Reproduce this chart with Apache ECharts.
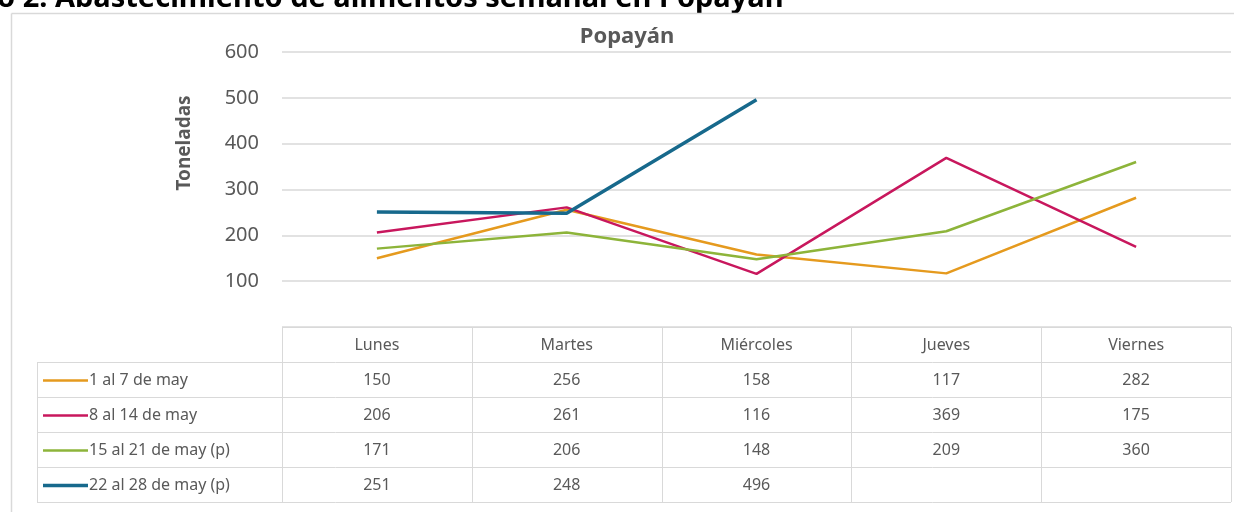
<!DOCTYPE html>
<html>
<head>
<meta charset="utf-8">
<script src="https://cdn.jsdelivr.net/npm/echarts@6/dist/echarts.min.js"></script>
<style>
  html, body { margin: 0; padding: 0; background: #fff; }
  #chart { width: 1234px; height: 512px; }
</style>
</head>
<body>
<div id="chart"></div>
<script>
var days = ['Lunes', 'Martes', 'Miércoles', 'Jueves', 'Viernes'];
var weeks = ['1 al 7 de may', '8 al 14 de may', '15 al 21 de may (p)', '22 al 28 de may (p)'];
var week1 = [150, 256, 158, 117, 282];
var week2 = [206, 261, 116, 369, 175];
var week3 = [171, 206, 148, 209, 360];
var week4 = [251, 248, 496, null, null];
var yTicks = [0, 100, 200, 300, 400, 500, 600];

var colors = ['#E59A1E', '#C8175D', '#8DB43A', '#17698C'];
var widths = [2.5, 2.5, 2.5, 3.5];
var allData = [week1, week2, week3, week4];

var chart = echarts.init(document.getElementById('chart'));

var txt = '#595959';
var border = '#d9d9d9';
var fam = 'Noto Sans';

// table layout (below the plot, like excel's data table)
var gridLeft = 282, gridRight = 1231, plotTop = 52, plotBottom = 327;
var colW = (gridRight - gridLeft) / days.length;
var headTop = 327, rowH = 35, legendLeft = 37;

function label(x, y, text, opts) {
    opts = opts || {};
    return {
        type: 'text', x: x, y: y, rotation: opts.rotation || 0,
        style: {
            text: text, fill: opts.fill || txt, fontSize: opts.size || 16,
            fontWeight: opts.weight || 'normal', fontFamily: fam,
            align: opts.align || 'center', verticalAlign: opts.valign || 'middle'
        }
    };
}

var graphics = [];

// cut-off figure caption at the very top
graphics.push(label(-3, -16, 'o 2. Abastecimiento de alimentos semanal en Popayán',
    { fill: '#000', size: 29, weight: 'bold', align: 'left', valign: 'top' }));
// outer chart border
graphics.push({ type: 'line', shape: { x1: 11.5, y1: 13.5, x2: 1234, y2: 13.5 }, style: { stroke: border, lineWidth: 1.5 } });
graphics.push({ type: 'line', shape: { x1: 11.5, y1: 13.5, x2: 11.5, y2: 512 }, style: { stroke: border, lineWidth: 1.5 } });

// y axis title
graphics.push(label(185, 143, 'Toneladas', { size: 19, weight: 'bold', rotation: Math.PI / 2 }));

// header row
graphics.push({ type: 'line', shape: { x1: gridLeft, y1: headTop + 0.5, x2: gridRight, y2: headTop + 0.5 }, style: { stroke: border } });
for (var c = 0; c <= days.length; c++) {
    var x = Math.round(gridLeft + c * colW) + 0.5;
    graphics.push({ type: 'line', shape: { x1: x, y1: headTop, x2: x, y2: headTop + rowH * 5 }, style: { stroke: border } });
}
days.forEach(function (d, i) {
    graphics.push(label(gridLeft + (i + 0.5) * colW, headTop + rowH / 2 + 1, d));
});

// body rows
for (var r = 0; r <= weeks.length; r++) {
    var y = headTop + rowH * (r + 1) + 0.5;
    graphics.push({ type: 'line', shape: { x1: legendLeft, y1: y, x2: gridRight, y2: y }, style: { stroke: border } });
}
graphics.push({ type: 'line', shape: { x1: legendLeft + 0.5, y1: headTop + rowH, x2: legendLeft + 0.5, y2: headTop + rowH * 5 }, style: { stroke: border } });

weeks.forEach(function (w, r) {
    var cy = headTop + rowH * (r + 1) + rowH / 2 + 1;
    graphics.push({ type: 'line', shape: { x1: 43, y1: cy, x2: 88, y2: cy }, style: { stroke: colors[r], lineWidth: widths[r] } });
    graphics.push(label(89, cy, w, { align: 'left' }));
    allData[r].forEach(function (v, i) {
        if (v == null) return;
        graphics.push(label(gridLeft + (i + 0.5) * colW, cy, String(v)));
    });
});

option = {
    animation: false,
    backgroundColor: '#fff',
    title: {
        text: 'Popayán',
        left: 622, top: 21,
        textAlign: 'center',
        textStyle: { color: txt, fontSize: 22, fontWeight: 'bold', fontFamily: fam }
    },
    grid: {
        left: gridLeft, right: 1234 - gridRight, top: plotTop, bottom: 512 - plotBottom
    },
    xAxis: {
        type: 'category',
        data: days,
        boundaryGap: true,
        axisLine: { show: false },
        axisTick: { show: false },
        axisLabel: { show: false }
    },
    yAxis: {
        type: 'value',
        min: yTicks[0],
        max: yTicks[yTicks.length - 1],
        interval: 100,
        axisLine: { show: false },
        axisTick: { show: false },
        axisLabel: {
            color: txt, fontSize: 20, fontFamily: fam, margin: 23,
            formatter: function (v) { return v === 0 ? '' : v; }
        },
        splitLine: { lineStyle: { color: border, width: 1.5 } }
    },
    series: weeks.map(function (w, i) {
        return {
            name: w,
            type: 'line',
            data: allData[i],
            symbol: 'none',
            connectNulls: false,
            lineStyle: { color: colors[i], width: widths[i] },
            itemStyle: { color: colors[i] }
        };
    }),
    graphic: graphics
};

chart.setOption(option);
</script>
</body>
</html>
